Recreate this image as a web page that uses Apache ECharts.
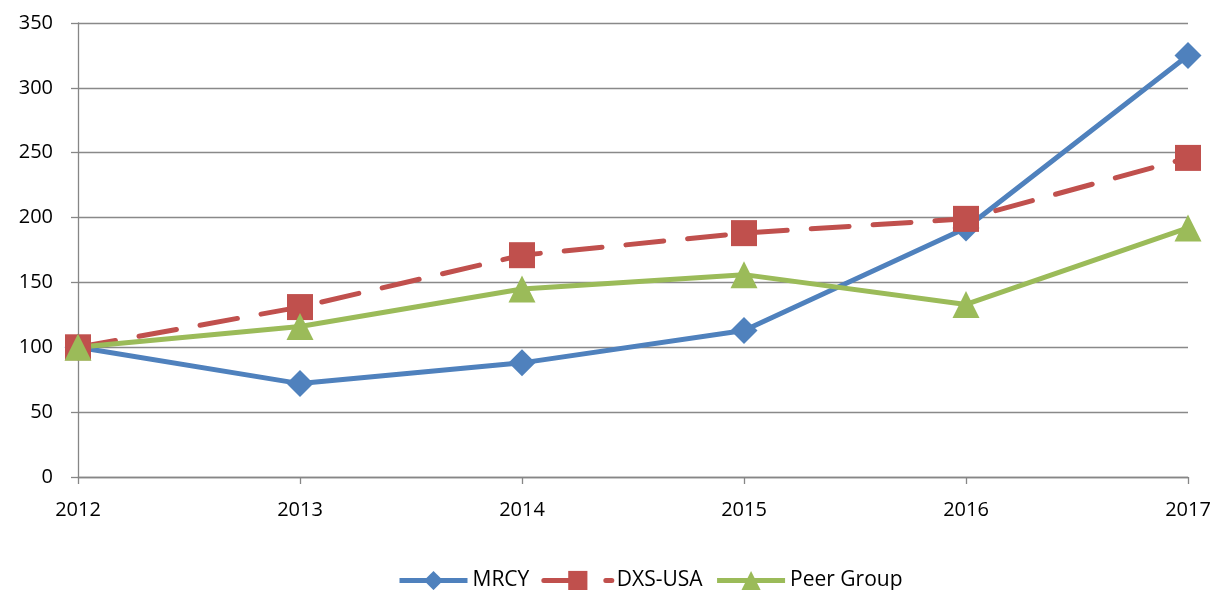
<!DOCTYPE html>
<html><head><meta charset="utf-8">
<script src="https://cdn.jsdelivr.net/npm/echarts@6/dist/echarts.min.js"></script>
<style>html,body{margin:0;padding:0;background:#fff}#c{width:1215px;height:590px}</style>
</head><body><div id="c"></div>
<script>
const years = ['2012','2013','2014','2015','2016','2017'];
const mrcy = [100, 72, 88, 113, 192, 325];
const dxs = [100, 131, 171, 188, 199, 246];
const peer = [100, 116, 145, 156, 133, 192];
const yTicks = {min: 0, max: 350, interval: 50};

const font = 'Open Sans, Liberation Sans, Arial, sans-serif';
const chart = echarts.init(document.getElementById('c'), null, {renderer: 'canvas'});
function mk(name, data, color, symbol, size, dashed) {
  return {
    name, type: 'line', data, symbol, symbolSize: size,
    itemStyle: {color},
    lineStyle: {color, width: 5, type: dashed ? [38, 24] : 'solid', cap: dashed ? 'round' : 'butt'},
    animation: false, z: 3
  };
}
chart.setOption({
  animation: false,
  grid: {left: 78, right: 27, top: 23, bottom: 113, containLabel: false},
  legend: {
    bottom: -6, left: 392, itemWidth: 68, itemHeight: 24, itemGap: 12,
    lineStyle: {width: 5},
    textStyle: {fontFamily: font, fontSize: 21, color: '#000', padding: [0, 0, 0, 0]},
    data: ['MRCY', 'DXS-USA', 'Peer Group']
  },
  xAxis: {
    type: 'category', data: years, boundaryGap: false,
    axisLine: {lineStyle: {color: '#868686', width: 1.3}},
    axisTick: {show: true, alignWithLabel: true, length: 7, lineStyle: {color: '#868686', width: 1.3}},
    axisLabel: {fontFamily: font, fontSize: 20, color: '#000', margin: 23},
    splitLine: {show: false}
  },
  yAxis: {
    type: 'value', min: yTicks.min, max: yTicks.max, interval: yTicks.interval,
    axisLine: {show: true, lineStyle: {color: '#868686', width: 1.3}},
    axisTick: {show: true, length: 7, lineStyle: {color: '#868686', width: 1.3}},
    axisLabel: {fontFamily: font, fontSize: 20, color: '#000', margin: 25},
    splitLine: {lineStyle: {color: '#898989', width: 1.3}}
  },
  series: [
    mk('MRCY', mrcy, '#4F81BD', 'diamond', 27, false),
    mk('DXS-USA', dxs, '#C0504D', 'rect', 26, true),
    mk('Peer Group', peer, '#9BBB59', 'triangle', 27, false)
  ]
});
</script></body></html>
